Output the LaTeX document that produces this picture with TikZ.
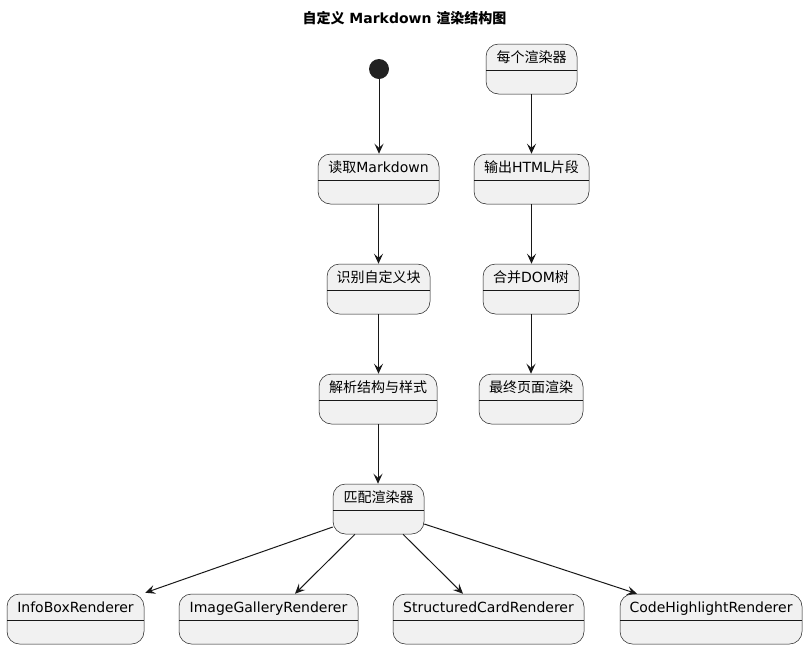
\documentclass[tikz,border=0pt]{standalone}
\usepackage{fontspec}
\setmainfont{DejaVu Sans}
\newfontfamily\cjk{Noto Sans CJK SC}
\usetikzlibrary{arrows.meta}
\definecolor{stfill}{HTML}{F1F1F1}
\definecolor{stline}{HTML}{181818}
\tikzset{
  stbox/.style={draw=stline, line width=0.5pt, fill=stfill, rounded corners=12.5pt,
    minimum height=50pt, inner sep=0pt, text height=18pt, text depth=32pt,
    font=\fontsize{14pt}{16pt}\selectfont,
    path picture={\draw[stline, line width=0.5pt]
      ([yshift=-26pt]path picture bounding box.north west) --
      ([yshift=-26pt]path picture bounding box.north east);}},
  flow/.style={draw=stline, line width=1pt, -{Stealth[length=10pt,width=9pt,inset=4pt]}},
}
\begin{document}
\begin{tikzpicture}[x=1pt,y=-1pt]
\useasboundingbox (0,0) rectangle (809,649);
\node[font=\bfseries\fontsize{14pt}{16pt}\selectfont] (title) at (404.5,18) {{\cjk\bfseries 自定义} Markdown {\cjk\bfseries 渲染结构图}};
\node[circle, fill={rgb,255:red,34;green,34;blue,34}, minimum size=20pt, inner sep=0pt] (start) at (379,69) {};
\node[stbox, minimum width=121pt] (read) at (378.5,179) {{\cjk 读取}Markdown};
\node[stbox, minimum width=103pt] (ident) at (378.5,289) {\cjk 识别自定义块};
\node[stbox, minimum width=118pt] (parse) at (378,399) {\cjk 解析结构与样式};
\node[stbox, minimum width=91pt] (match) at (378.5,509) {\cjk 匹配渲染器};
\node[stbox, minimum width=91pt] (each) at (531.5,69) {\cjk 每个渲染器};
\node[stbox, minimum width=115pt] (out) at (531.5,179) {{\cjk 输出}HTML{\cjk 片段}};
\node[stbox, minimum width=96pt] (merge) at (531,289) {{\cjk 合并}DOM{\cjk 树}};
\node[stbox, minimum width=104pt] (final) at (531,399) {\cjk 最终页面渲染};
\node[stbox, minimum width=137pt] (info) at (75.5,619) {InfoBoxRenderer};
\node[stbox, minimum width=179pt] (gal) at (268.5,619) {ImageGalleryRenderer};
\node[stbox, minimum width=191pt] (card) at (488.5,619) {StructuredCardRenderer};
\node[stbox, minimum width=182pt] (code) at (711,619) {CodeHighlightRenderer};
\draw[flow] (start.south) -- (start.south |- read.north);
\draw[flow] (read.south) -- (read.south |- ident.north);
\draw[flow] (ident.south) -- (ident.south |- parse.north);
\draw[flow] (parse.south) -- (parse.south |- match.north);
\draw[flow] (each.south) -- (each.south |- out.north);
\draw[flow] (out.south) -- (out.south |- merge.north);
\draw[flow] (merge.south) -- (merge.south |- final.north);
\draw[flow] ([yshift=-18pt]match.west) -- ([xshift=1pt,yshift=1pt]info.north east);
\draw[flow] ([xshift=-23.5pt]match.south) -- ([xshift=26.5pt]gal.north);
\draw[flow] ([xshift=24.5pt]match.south) -- ([xshift=-25.5pt]card.north);
\draw[flow] ([yshift=-15pt]match.east) -- ([xshift=-74pt]code.north);
\end{tikzpicture}
\end{document}
